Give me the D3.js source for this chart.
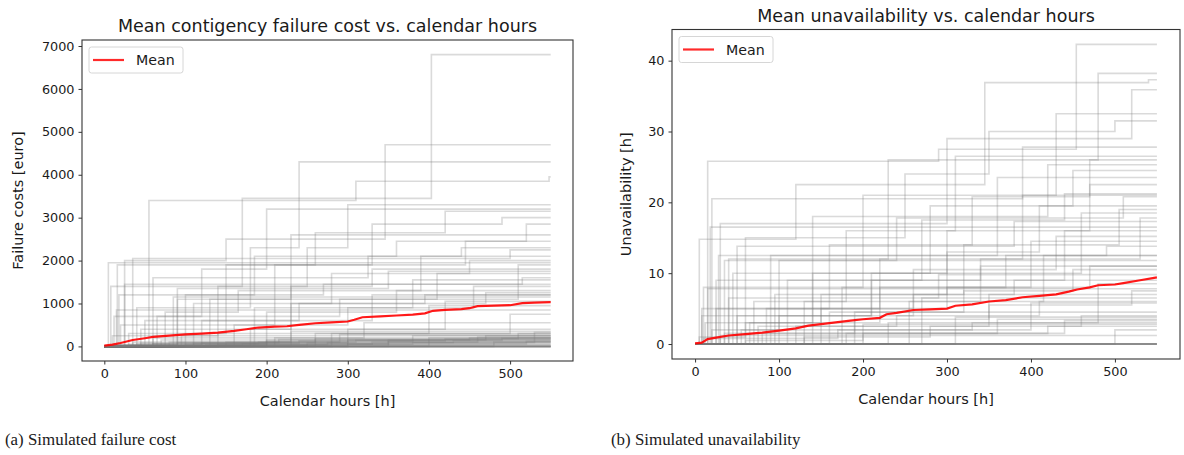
<!DOCTYPE html>
<html>
<head>
<meta charset="utf-8">
<script src="https://cdn.jsdelivr.net/npm/d3@7"></script>
<style>
  html, body { margin: 0; padding: 0; background: #fff; }
  svg { display: block; }
  text { font-family: "DejaVu Sans", sans-serif; fill: #1a1a1a; }
  text.caption { font-family: "Liberation Serif", "DejaVu Serif", serif; font-size: 16.9px; }
</style>
</head>
<body>
<svg id="chart" width="1184" height="455"></svg>
<script>
// ---------------- DATA ----------------
const xTicks = [0, 100, 200, 300, 400, 500];
const costTicks = [0, 1000, 2000, 3000, 4000, 5000, 6000, 7000];
const unavailTicks = [0, 10, 20, 30, 40];
const horizon = 550;

// Mean failure cost (euro) vs calendar hours
const costMeanHours  = [0,10,20,35,50,60,80,100,120,140,160,175,190,210,225,240,260,280,300,308,318,340,360,380,395,405,420,440,450,460,480,500,515,530,550];
const costMeanValues = [20,40,80,150,190,220,250,280,300,320,360,400,440,460,470,500,540,560,580,620,680,700,720,740,770,830,850,870,890,940,950,960,1010,1020,1030];

// Simulated cost paths: [hour, cumulative cost, hour, cumulative cost, ...]
const costPaths = [
  [8,1400, 170,3450, 403,6800],
  [25,2000, 150,2500, 346,4700],
  [40,900, 180,2300, 240,4300],
  [55,3400, 310,3850, 548,3950],
  [12,700, 120,1800, 200,3200],
  [90,1100, 230,2600, 300,3300],
  [30,300, 150,1900, 260,2650, 420,3150],
  [16,1900, 330,2850, 490,3000],
  [100,1200, 185,2100, 360,2450, 520,2850],
  [10,250, 140,1400, 250,2300, 300,2600],
  [20,500, 210,1900, 445,2450],
  [60,1600, 325,2100, 440,2300],
  [35,2050, 500,2250],
  [75,800, 165,1300, 390,2100],
  [110,1000, 280,1700, 450,2000],
  [5,1950],
  [45,400, 230,1400, 330,1800],
  [130,1100, 410,1700],
  [18,1200, 270,1450, 515,1600],
  [160,500, 300,900, 380,1550],
  [25,1450],
  [200,800, 360,1300],
  [50,600, 240,1000, 470,1250],
  [85,1150],
  [300,400, 420,1050],
  [140,300, 400,950],
  [15,850],
  [260,300, 500,750],
  [60,200, 320,550],
  [180,400],
  [35,100, 230,350],
  [280,300],
  [95,250],
  [210,200],
  [400,200],
  [70,150],
  [350,150],
  [150,100],
  [480,100],
  [250,50],
  [30,50],
  [20,30, 120,80, 300,150, 450,200],
  [40,60, 200,120, 380,250],
  [15,40, 90,90, 260,180, 510,300],
  [60,50, 330,100, 460,220],
  [110,70, 240,130, 420,170],
  [25,20, 170,60, 350,110],
  [80,100, 290,280],
  [140,50, 380,90, 530,330],
  [200,150, 470,250],
  [10,30, 60,60, 190,100, 310,140, 490,190],
  [300,60, 520,120],
  [45,80, 215,160],
  [125,40, 275,90, 430,130],
  [5,10, 100,50, 250,80],
  [65,700, 290,1100, 510,1900],
  [120,600, 330,1200],
  [185,900, 455,1400],
  [90,1350, 350,1750],
  [230,1000, 395,1200],
  [], [], [], [], [], [], [], []
];

// Mean unavailability (h) vs calendar hours
const unavailMeanHours  = [0,8,15,25,40,60,80,100,120,135,150,170,185,200,220,228,240,260,280,300,310,330,350,370,390,410,430,445,455,470,480,500,510,530,545,550];
const unavailMeanValues = [0.1,0.2,0.7,0.9,1.2,1.4,1.6,1.9,2.2,2.6,2.8,3.1,3.3,3.5,3.7,4.2,4.4,4.8,4.9,5.0,5.4,5.6,6.0,6.2,6.6,6.8,7.0,7.4,7.7,8.0,8.3,8.4,8.6,9.0,9.3,9.4];

// Simulated unavailability paths: [hour, cumulative hours, ...]
const unavailPaths = [
  [15,25.8, 290,27.5, 454,42.3],
  [5,14.8, 120,22.5, 345,36.9, 540,37.3],
  [40,12, 230,26, 480,38.2],
  [30,17, 300,29, 520,35.9],
  [10,8, 200,21, 430,32.5],
  [60,15, 250,24, 350,30, 500,31.5],
  [20,20.5, 390,27.8],
  [70,6, 180,16, 310,26.5],
  [12,3, 140,18, 420,25.3],
  [45,10, 280,19.5, 450,24.5],
  [90,12.5, 360,23.5],
  [25,5, 160,14, 330,20.8, 470,22.5],
  [110,9, 270,17.5, 440,21.2],
  [35,11.8, 240,17.8, 510,20.8],
  [150,7, 300,13, 410,19.5],
  [8,4, 210,10, 460,18.5],
  [50,13.8, 380,17.3],
  [130,6, 340,12, 530,17.8],
  [18,16.5],
  [85,5, 260,10.5, 430,15.2],
  [175,8, 400,14.5],
  [28,12.5, 490,13.8],
  [65,3, 220,8, 370,12.5],
  [100,11.8],
  [190,4.5, 320,7.5, 450,10.5],
  [40,6.5, 290,9.8],
  [230,3, 480,8.5],
  [15,7.8],
  [120,2.5, 350,7.0],
  [270,6.5],
  [55,2, 400,5.8],
  [160,4.5],
  [310,3.8],
  [80,1.5, 440,3.3],
  [200,2.8],
  [500,2],
  [30,1.2],
  [5,1, 60,3, 150,5, 300,8, 470,11],
  [20,2, 100,4, 260,7, 380,9],
  [35,1.5, 190,3.5, 350,5.5, 520,7.5],
  [75,2.5, 240,4, 410,6],
  [130,1, 280,2.5, 460,4],
  [10,0.8, 170,2, 330,3],
  [50,4, 210,9, 440,16],
  [95,7, 320,14, 505,19],
  [140,10, 300,16, 470,26],
  [8,5, 220,12, 390,21],
  [180,1.5, 360,3.5],
  [25,9, 340,11],
  [255,6, 415,12.5],
  [60,0.5, 200,1.5, 420,2.5],
  [], [], [], [], [], [], [], []
];

// ---------------- DRAWING ----------------
const svg = d3.select("#chart");

function panel(cfg) {
  const x = d3.scaleLinear().domain([-27.5, 577.5]).range([cfg.left, cfg.right]);
  const y = d3.scaleLinear().domain(cfg.yDomain).range([cfg.bottom, cfg.top]);
  const g = svg.append("g");
  const clipId = "clip" + cfg.id;
  g.append("clipPath").attr("id", clipId).append("rect")
    .attr("x", cfg.left).attr("y", cfg.top)
    .attr("width", cfg.right - cfg.left).attr("height", cfg.bottom - cfg.top);

  const plot = g.append("g").attr("clip-path", `url(#${clipId})`);
  const step = d3.line().x(d => x(d[0])).y(d => y(d[1])).curve(d3.curveStepAfter);

  cfg.paths.forEach(p => {
    const pts = [[0, 0]];
    for (let i = 0; i < p.length; i += 2) pts.push([p[i], p[i + 1]]);
    pts.push([horizon, pts[pts.length - 1][1]]);
    plot.append("path").attr("d", step(pts))
      .attr("fill", "none").attr("stroke", "#7a7a7a")
      .attr("stroke-opacity", 0.28).attr("stroke-width", 1.6);
  });

  const meanPts = cfg.meanHours.map((h, i) => [h, cfg.meanValues[i]]);
  plot.append("path")
    .attr("d", d3.line().x(d => x(d[0])).y(d => y(d[1]))(meanPts))
    .attr("fill", "none").attr("stroke", "#ff0000").attr("stroke-opacity", 0.9)
    .attr("stroke-width", 2.2);

  // axes
  const xAxis = g.append("g").attr("transform", `translate(0,${cfg.bottom})`)
    .call(d3.axisBottom(x).tickValues(xTicks).tickSize(3.5).tickPadding(4).tickFormat(d3.format("d")));
  const yAxis = g.append("g").attr("transform", `translate(${cfg.left},0)`)
    .call(d3.axisLeft(y).tickValues(cfg.yTicks).tickSize(3.5).tickPadding(4).tickFormat(d3.format("d")));
  [xAxis, yAxis].forEach(a => {
    a.select(".domain").remove();
    a.selectAll(".tick line").attr("stroke", "#333").attr("stroke-width", 1);
    a.selectAll(".tick text").attr("font-size", 12.8).attr("fill", "#1a1a1a");
  });

  // frame
  g.append("rect").attr("x", cfg.left).attr("y", cfg.top)
    .attr("width", cfg.right - cfg.left).attr("height", cfg.bottom - cfg.top)
    .attr("fill", "none").attr("stroke", "#333").attr("stroke-width", 1.1);

  // title & labels
  const cx = (cfg.left + cfg.right) / 2;
  g.append("text").attr("x", cx).attr("y", cfg.top - 8).attr("text-anchor", "middle")
    .attr("font-size", 17.5).text(cfg.title);
  g.append("text").attr("x", cx).attr("y", cfg.bottom + 45).attr("text-anchor", "middle")
    .attr("font-size", 14.5).text("Calendar hours [h]");
  g.append("text")
    .attr("transform", `translate(${cfg.yLabelX},${(cfg.top + cfg.bottom) / 2}) rotate(-90)`)
    .attr("text-anchor", "middle").attr("font-size", 14.5).text(cfg.yLabel);

  // legend
  const lx = cfg.left + 7, ly = cfg.top + 7;
  g.append("rect").attr("x", lx).attr("y", ly).attr("width", 94).attr("height", 26)
    .attr("rx", 2.5).attr("fill", "#fff").attr("fill-opacity", 0.85)
    .attr("stroke", "#d6d6d6").attr("stroke-width", 1);
  g.append("line").attr("x1", lx + 4).attr("x2", lx + 35).attr("y1", ly + 13).attr("y2", ly + 13)
    .attr("stroke", "#ff2a2a").attr("stroke-width", 2.2);
  g.append("text").attr("x", lx + 47).attr("y", ly + 18).attr("font-size", 14.2).text("Mean");

  // caption
  svg.append("text").attr("class", "caption").attr("x", cfg.captionX).attr("y", 445)
    .text(cfg.caption);
}

panel({
  id: "a", left: 82, right: 573, top: 40, bottom: 361,
  yDomain: [-340, 7140], yTicks: costTicks,
  paths: costPaths, meanHours: costMeanHours, meanValues: costMeanValues,
  title: "Mean contigency failure cost vs. calendar hours",
  yLabel: "Failure costs [euro]", yLabelX: 23,
  caption: "(a) Simulated failure cost", captionX: 5
});

panel({
  id: "b", left: 672, right: 1180, top: 29.5, bottom: 359,
  yDomain: [-2.115, 44.4], yTicks: unavailTicks,
  paths: unavailPaths, meanHours: unavailMeanHours, meanValues: unavailMeanValues,
  title: "Mean unavailability vs. calendar hours",
  yLabel: "Unavailability [h]", yLabelX: 631,
  caption: "(b) Simulated unavailability", captionX: 611
});
</script>
</body>
</html>
